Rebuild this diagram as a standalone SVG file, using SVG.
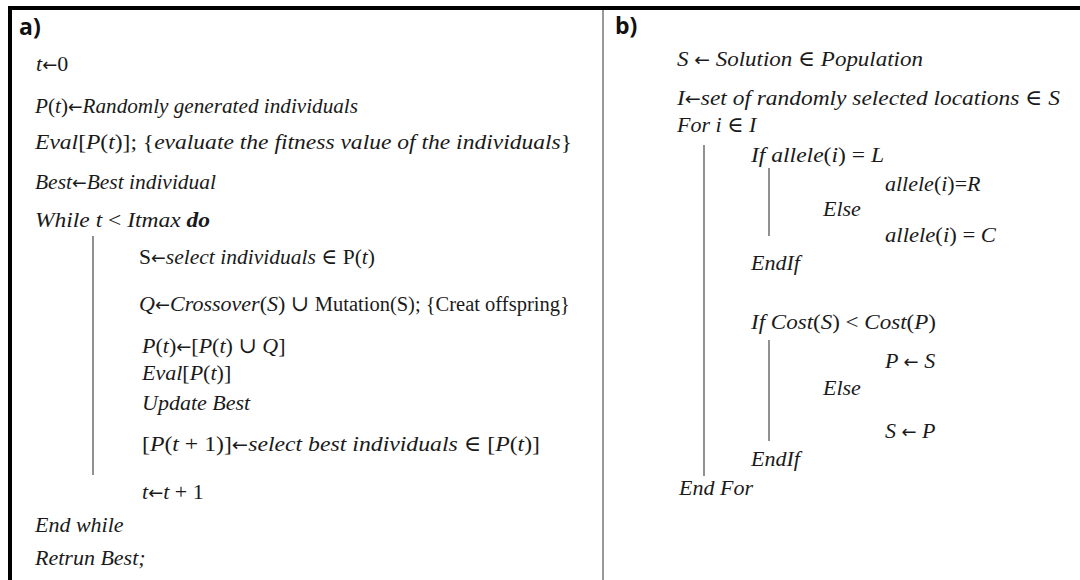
<svg xmlns="http://www.w3.org/2000/svg" width="1080" height="580" viewBox="0 0 1080 580">
<style>
.m{font-family:"Liberation Serif","DejaVu Serif",serif;font-style:italic;font-size:22px;fill:#1a1a1a}
.u{font-style:normal}
.s{font-size:20.5px}
.ar{font-family:"DejaVu Sans",sans-serif;font-style:normal;font-size:18px}
.b{font-weight:bold}
.lbl{font-family:"Open Sans","Liberation Sans",sans-serif;font-weight:bold;font-size:23px;fill:#111}
.bar{stroke:#555;stroke-width:1.3;fill:none}
</style>
<rect x="0" y="0" width="1080" height="580" fill="#fff"/>
<g id="frame">
<line x1="8" y1="8" x2="1080" y2="8" stroke="#000" stroke-width="4"/>
<line x1="10" y1="6" x2="10" y2="580" stroke="#000" stroke-width="4"/>
<line x1="603" y1="10" x2="603" y2="580" stroke="#777" stroke-width="1.5"/>
</g>
<g id="panel-a">
<text class="lbl" x="19" y="35">a)</text>
<text class="m" x="36" y="71">t<tspan class="ar">←</tspan><tspan class="u">0</tspan></text>
<text class="m" x="35" y="113" textLength="323" lengthAdjust="spacingAndGlyphs">P<tspan class="u">(</tspan>t<tspan class="u">)</tspan><tspan class="ar">←</tspan>Randomly generated individuals</text>
<text class="m" x="35" y="149" textLength="537" lengthAdjust="spacingAndGlyphs">Eval<tspan class="u">[</tspan>P<tspan class="u">(</tspan>t<tspan class="u">)];</tspan> <tspan class="u">{</tspan>evaluate the fitness value of the individuals<tspan class="u">}</tspan></text>
<text class="m" x="35" y="189" textLength="181" lengthAdjust="spacingAndGlyphs">Best<tspan class="ar">←</tspan>Best individual</text>
<text class="m" x="35" y="227" textLength="175" lengthAdjust="spacingAndGlyphs">While  t <tspan class="u">&lt;</tspan>  Itmax <tspan class="b">do</tspan></text>
<line class="bar" x1="93" y1="236" x2="93" y2="475"/>
<text class="m" x="139" y="264" textLength="236" lengthAdjust="spacingAndGlyphs"><tspan class="u">S</tspan><tspan class="ar">←</tspan>select individuals <tspan class="u">∈ P(</tspan>t<tspan class="u">)</tspan></text>
<text class="m" x="139" y="311">Q<tspan class="ar">←</tspan>Crossover<tspan class="u">(</tspan>S<tspan class="u">) ∪ </tspan><tspan class="u s">Mutation(S); {Creat offspring}</tspan></text>
<text class="m" x="142" y="353">P<tspan class="u">(</tspan>t<tspan class="u">)</tspan><tspan class="ar">←</tspan><tspan class="u">[</tspan>P<tspan class="u">(</tspan>t<tspan class="u">) ∪ </tspan>Q<tspan class="u">]</tspan></text>
<text class="m" x="142" y="380">Eval<tspan class="u">[</tspan>P<tspan class="u">(</tspan>t<tspan class="u">)]</tspan></text>
<text class="m" x="142" y="410">Update Best</text>
<text class="m" x="142" y="451" textLength="398" lengthAdjust="spacingAndGlyphs"><tspan class="u">[</tspan>P<tspan class="u">(</tspan>t <tspan class="u">+ 1)]</tspan><tspan class="ar">←</tspan>select best individuals <tspan class="u">∈ [</tspan>P<tspan class="u">(</tspan>t<tspan class="u">)]</tspan></text>
<text class="m" x="142" y="499">t<tspan class="ar">←</tspan>t <tspan class="u">+ 1</tspan></text>
<text class="m" x="35" y="532">End while</text>
<text class="m" x="35" y="565">Retrun Best;</text>
</g>
<g id="panel-b">
<text class="lbl" x="615" y="34">b)</text>
<text class="m" x="677" y="66" textLength="246" lengthAdjust="spacingAndGlyphs">S <tspan class="ar">←</tspan> Solution  <tspan class="u">∈</tspan>  Population</text>
<text class="m" x="677" y="105" textLength="383" lengthAdjust="spacingAndGlyphs">I<tspan class="ar">←</tspan>set of randomly selected locations <tspan class="u">∈</tspan> S</text>
<text class="m" x="677" y="132">For  i <tspan class="u">∈</tspan> I</text>
<line class="bar" x1="704" y1="145" x2="704" y2="476"/>
<text class="m" x="751" y="162" textLength="133" lengthAdjust="spacingAndGlyphs">If allele<tspan class="u">(</tspan>i<tspan class="u">) =</tspan> L</text>
<line class="bar" x1="769" y1="168" x2="769" y2="236"/>
<text class="m" x="885" y="191">allele<tspan class="u">(</tspan>i<tspan class="u">)=</tspan>R</text>
<text class="m" x="823" y="216">Else</text>
<text class="m" x="885" y="242" textLength="111" lengthAdjust="spacingAndGlyphs">allele<tspan class="u">(</tspan>i<tspan class="u">) =</tspan> C</text>
<text class="m" x="751" y="270">EndIf</text>
<text class="m" x="751" y="329" textLength="185" lengthAdjust="spacingAndGlyphs">If Cost<tspan class="u">(</tspan>S<tspan class="u">) &lt;</tspan> Cost<tspan class="u">(</tspan>P<tspan class="u">)</tspan></text>
<line class="bar" x1="769" y1="340" x2="769" y2="441"/>
<text class="m" x="885" y="368">P <tspan class="ar">←</tspan> S</text>
<text class="m" x="823" y="395">Else</text>
<text class="m" x="885" y="438">S <tspan class="ar">←</tspan> P</text>
<text class="m" x="751" y="466">EndIf</text>
<text class="m" x="679" y="495">End For</text>
</g>
</svg>
